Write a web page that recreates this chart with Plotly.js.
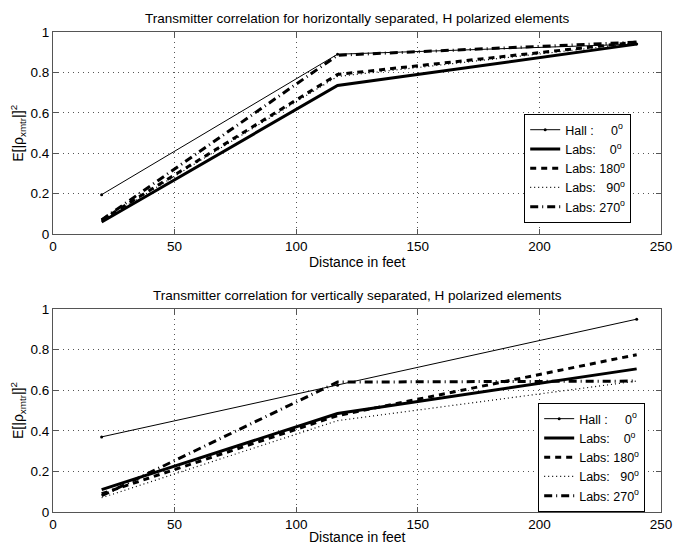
<!DOCTYPE html>
<html>
<head>
<meta charset="utf-8">
<script src="https://cdn.plot.ly/plotly-3.0.1.min.js"></script>
<style>html,body{margin:0;padding:0;background:#fff;}#chart{width:675px;height:546px;}</style>
</head>
<body>
<div id="chart"></div>
<script>
const distance = [20, 117, 240];
const labels = ["Hall :\u00a0\u00a0\u00a0\u00a0\u00a00<sup>o</sup>", "Labs:\u00a0\u00a0\u00a0\u00a00<sup>o</sup>", "Labs:\u00a0180<sup>o</sup>", "Labs:\u00a0\u00a0\u00a090<sup>o</sup>", "Labs:\u00a0270<sup>o</sup>"];

// Top: horizontally separated
const hHall  = [0.195, 0.890, 0.940];
const hLabs0 = [0.060, 0.735, 0.940];
const hLabs180 = [0.070, 0.790, 0.950];
const hLabs90  = [0.065, 0.780, 0.945];
const hLabs270 = [0.070, 0.885, 0.950];

// Bottom: vertically separated
const vHall  = [0.370, 0.625, 0.950];
const vLabs0 = [0.110, 0.485, 0.705];
const vLabs180 = [0.090, 0.475, 0.775];
const vLabs90  = [0.070, 0.450, 0.645];
const vLabs270 = [0.080, 0.640, 0.645];

const styles = [
  {line:{color:'#000', width:1, dash:'solid'}, mode:'lines+markers', marker:{size:3, color:'#000'}},
  {line:{color:'#000', width:3, dash:'solid'}, mode:'lines'},
  {line:{color:'#000', width:3, dash:'6px,5px'}, mode:'lines'},
  {line:{color:'#000', width:1.2, dash:'1px,3px'}, mode:'lines'},
  {line:{color:'#000', width:3, dash:'8px,4px,1px,4px'}, mode:'lines'}
];

function mk(ys, i, xa, ya, leg) {
  return Object.assign({x: distance, y: ys, name: labels[i], xaxis: xa, yaxis: ya, legend: leg, type:'scatter'}, styles[i]);
}

const data = [];
[hHall, hLabs0, hLabs180, hLabs90, hLabs270].forEach((s,i)=>data.push(mk(s,i,'x','y','legend')));
[vHall, vLabs0, vLabs180, vLabs90, vLabs270].forEach((s,i)=>data.push(mk(s,i,'x2','y2','legend2')));

const fontFam = 'Liberation Sans, Arial, Helvetica, sans-serif';
const axBase = {
  showline:true, linecolor:'#555', linewidth:1, mirror:'ticks',
  ticks:'inside', ticklen:5, tickcolor:'#555',
  showgrid:true, gridcolor:'#555', griddash:'1px,4px', gridwidth:1,
  zeroline:false, tickfont:{size:13.5, color:'#000', family:fontFam}
};
const xax = Object.assign({}, axBase, {range:[0,250], dtick:50, tick0:0, fixedrange:true});
const yax = Object.assign({}, axBase, {range:[0,1], dtick:0.2, tick0:0, fixedrange:true});

const legBase = {
  bgcolor:'#fff', bordercolor:'#000', borderwidth:1,
  font:{size:12.5, color:'#000', family:fontFam}, xanchor:'left', yanchor:'top',
  tracegroupgap:0, itemwidth:30
};

const layout = {
  width:675, height:546,
  margin:{l:53, r:14, t:32, b:34},
  paper_bgcolor:'#fff', plot_bgcolor:'#fff',
  font:{family:fontFam, color:'#000'},
  xaxis: Object.assign({}, xax, {domain:[0,1], anchor:'y'}),
  yaxis: Object.assign({}, yax, {domain:[0.579,1], anchor:'x'}),
  xaxis2: Object.assign({}, xax, {domain:[0,1], anchor:'y2'}),
  yaxis2: Object.assign({}, yax, {domain:[0,0.4229], anchor:'x2'}),
  legend: Object.assign({}, legBase, {x:0.775, y:0.829}),
  legend2: Object.assign({}, legBase, {x:0.798, y:0.227}),
  annotations:[
    {text:'Transmitter correlation for horizontally separated, H polarized elements', xref:'paper', yref:'paper', x:0.5, y:1.029, showarrow:false, font:{size:13.5}, xanchor:'center', yanchor:'middle'},
    {text:'Transmitter correlation for vertically separated, H polarized elements', xref:'paper', yref:'paper', x:0.5, y:0.452, showarrow:false, font:{size:13.5}, xanchor:'center', yanchor:'middle'},
    {text:'Distance in feet', xref:'paper', yref:'paper', x:0.5, y:0.521, showarrow:false, font:{size:14}, xanchor:'center', yanchor:'middle'},
    {text:'Distance in feet', xref:'paper', yref:'paper', x:0.5, y:-0.052, showarrow:false, font:{size:14}, xanchor:'center', yanchor:'middle'},
    {text:'E[|ρ<sub>xmtr</sub>|]<sup>2</sup>', xref:'paper', yref:'paper', x:-0.0576, y:0.79, showarrow:false, textangle:-90, font:{size:14}, xanchor:'center', yanchor:'middle'},
    {text:'E[|ρ<sub>xmtr</sub>|]<sup>2</sup>', xref:'paper', yref:'paper', x:-0.0576, y:0.2125, showarrow:false, textangle:-90, font:{size:14}, xanchor:'center', yanchor:'middle'}
  ],
  showlegend:true
};

Plotly.newPlot('chart', data, layout, {staticPlot:true, displayModeBar:false});
</script>
</body>
</html>
